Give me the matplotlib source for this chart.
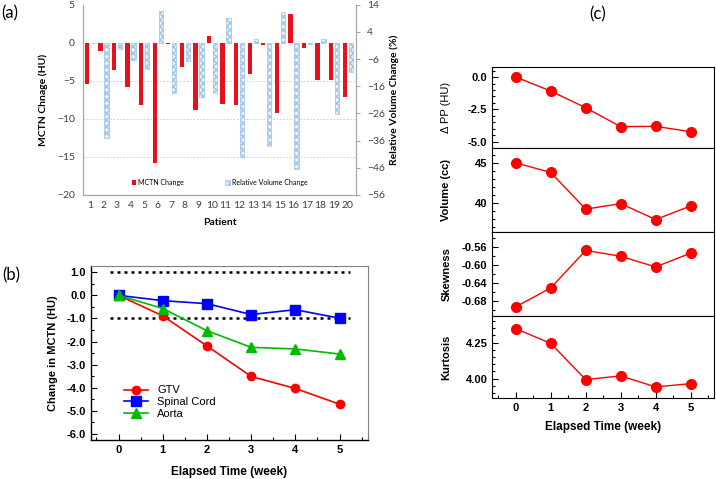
import matplotlib
matplotlib.use("Agg")
import matplotlib.pyplot as plt
from matplotlib.ticker import MultipleLocator, FormatStrFormatter
import numpy as np

plt.rcParams['font.family'] = ['Liberation Sans', 'DejaVu Sans']

# panel (a) data
patients = list(range(1, 21))
mctn_change = [-5.4, -1.1, -3.6, -5.8, -8.2, -15.8, -0.1, -3.2, -8.8, 0.9,
               -8.1, -8.2, -4.1, -0.35, -9.25, 3.8, -0.7, -4.9, -4.95, -7.15]
volume_change = [-0.2, -35.2, -2.3, -6.3, -9.7, 11.8, -18.4, -6.6, -20.0, -18.4,
                 9.2, -42.2, 1.5, -37.9, 11.4, -46.4, -0.4, 1.5, -26.2, -10.7]

# panel (b) data
weeks = [0, 1, 2, 3, 4, 5]
gtv = [0.0, -0.89, -2.19, -3.51, -4.03, -4.71]
spinal_cord = [0.0, -0.23, -0.36, -0.83, -0.62, -0.99]
aorta = [0.0, -0.57, -1.53, -2.25, -2.32, -2.54]

# panel (c) data
delta_pp = [0.0, -1.08, -2.37, -3.83, -3.80, -4.22]
volume = [45.0, 43.8, 39.2, 39.9, 37.9, 39.6]
skewness = [-0.693, -0.651, -0.567, -0.580, -0.604, -0.573]
kurtosis = [4.347, 4.245, 3.993, 4.019, 3.942, 3.965]

fig = plt.figure(figsize=(7.16, 4.79), dpi=100)

# ---------------- (a) ----------------
gray = '#a6a6a6'
afont = ['Lato', 'DejaVu Sans']
ax = fig.add_axes([0.116, 0.593, 0.381, 0.397])
x = np.array(patients)
b1 = ax.bar(x - 0.22, mctn_change, width=0.32, color='#e8111b', label='MCTN Change')
ax.set_ylim(-20, 5)
ax.set_xlim(0.5, 20.6)
for yv in [-5, -10, -15]:
    ax.axhline(yv, color='#c8c8c8', ls=(0, (2, 2)), lw=0.6, zorder=0)
ax2 = ax.twinx()
b2 = ax2.bar(x + 0.22, volume_change, width=0.32, facecolor='#eaf2fb',
             edgecolor='#9dc3e6', hatch='xxxxx', lw=0.5, label='Relative Volume Change')
ax2.set_ylim(-56, 14)
ax2.set_yticks(np.arange(-56, 15, 10))
for a in (ax, ax2):
    a.spines['top'].set_visible(False)
    a.spines['left'].set_color(gray)
    a.spines['right'].set_color(gray)
    a.spines['bottom'].set_color(gray)
ax.set_yticks([5, 0, -5, -10, -15, -20])
ax.set_xticks(patients)
ax.tick_params(axis='y', length=0, labelsize=7.5, colors='#404040', pad=6)
ax.tick_params(axis='x', length=0, labelsize=7.5, colors='#404040', pad=4)
ax2.tick_params(axis='y', length=3, color=gray, labelsize=7.5, colors='#404040', pad=5)
for lab in ax.get_xticklabels() + ax.get_yticklabels() + ax2.get_yticklabels():
    lab.set_family(afont)
ax.set_ylabel('MCTN Chnage (HU)', fontsize=7.5, fontweight='bold', family=afont, labelpad=6)
ax2.set_ylabel('Relative Volume Change (%)', fontsize=7.5, fontweight='bold', family=afont, labelpad=3)
ax.set_xlabel('Patient', fontsize=7.5, fontweight='bold', family=afont, labelpad=6)
ax.legend([b1, b2], ['MCTN Change', 'Relative Volume Change'], ncol=2, loc='center',
          bbox_to_anchor=(0.5, 0.065), frameon=False, prop={'family': afont, 'size': 5},
          handlelength=0.6, handleheight=0.6, columnspacing=6, handletextpad=0.3)
fig.text(0.002, 0.972, '(a)', fontsize=12, family=afont, va='center')

# ---------------- (b) ----------------
bx = fig.add_axes([0.1267, 0.0814, 0.387, 0.3633])
bx.plot([-0.2, 5.23], [1.0, 1.0], color='black', ls=(0, (1.2, 1.6)), lw=1.8, zorder=1)
bx.plot([-0.2, 5.23], [-1.0, -1.0], color='black', ls=(0, (1.2, 1.6)), lw=1.8, zorder=1)
bx.plot(weeks, gtv, '-o', color='#ff0000', ms=6, lw=1.2, label='GTV', zorder=3)
bx.plot(weeks, spinal_cord, '-s', color='#0000ff', ms=6.5, lw=1.2, label='Spinal Cord', zorder=4)
bx.plot(weeks, aorta, '-^', color='#00bb00', ms=6.5, lw=1.2, label='Aorta', zorder=5)
bx.set_xlim(-0.63, 5.64)
bx.set_ylim(-6.26, 1.27)
bx.set_xticks(weeks)
bx.set_yticks(np.arange(-6, 1.5, 1.0))
bx.yaxis.set_major_formatter(FormatStrFormatter('%.1f'))
bx.yaxis.set_minor_locator(MultipleLocator(0.5))
bx.xaxis.set_minor_locator(MultipleLocator(0.5))
bx.tick_params(which='both', direction='in', labelsize=8, width=0.8)
bx.tick_params(which='major', length=4)
bx.tick_params(which='minor', length=2)
bx.tick_params(axis='x', which='both', top=False)
for lab in bx.get_xticklabels() + bx.get_yticklabels():
    lab.set_fontweight('bold')
bx.spines['right'].set_color('#808080')
bx.spines['top'].set_color('#808080')
for s in ['left', 'bottom']:
    bx.spines[s].set_linewidth(1.0)
bx.set_ylabel('Change in MCTN (HU)', fontsize=8, fontweight='bold', labelpad=6)
bx.set_xlabel('Elapsed Time (week)', fontsize=8.5, fontweight='bold', labelpad=8)
bx.legend(loc='lower left', bbox_to_anchor=(0.1, 0.09), frameon=False, fontsize=8,
          handlelength=2.2, labelspacing=0.15, borderpad=0)
fig.text(0.003, 0.426, '(b)', fontsize=12, family=afont, va='center')

# ---------------- (c) ----------------
bounds = [0.8608, 0.6917, 0.5150, 0.3409, 0.1685]
series = [delta_pp, volume, skewness, kurtosis]
labels = ['\u0394 PP (HU)', 'Volume (cc)', 'Skewness', 'Kurtosis']
ylims = [(-5.45, 0.8), (36.3, 46.9), (-0.713, -0.5265), (3.863, 4.4375)]
majors = [[0.0, -2.5, -5.0], [40, 45], [-0.56, -0.60, -0.64, -0.68], [4.00, 4.25]]
minors = [0.5, 1, 0.02, 0.05]
fmts = ['%.1f', '%d', '%.2f', '%.2f']
for i in range(4):
    cx = fig.add_axes([0.6876, bounds[i + 1], 0.3096, bounds[i] - bounds[i + 1]])
    cx.plot(weeks, series[i], '-o', color='#ff0000', ms=7, lw=1.0)
    cx.set_xlim(-0.67, 5.67)
    cx.set_ylim(*ylims[i])
    cx.set_yticks(majors[i])
    cx.yaxis.set_major_formatter(FormatStrFormatter(fmts[i]))
    cx.yaxis.set_minor_locator(MultipleLocator(minors[i]))
    cx.tick_params(which='both', direction='in', labelsize=8, width=0.8, right=False, top=False)
    cx.tick_params(which='major', length=4)
    cx.tick_params(which='minor', length=2)
    for lab in cx.get_yticklabels():
        lab.set_fontweight('bold')
    weight = 'normal' if i == 0 else 'bold'
    cx.set_ylabel(labels[i], fontsize=8, fontweight=weight)
    cx.yaxis.set_label_coords(-0.185, 0.5)
    if i < 3:
        cx.set_xticks([])
    else:
        cx.set_xticks(weeks)
        cx.xaxis.set_minor_locator(MultipleLocator(0.5))
        for lab in cx.get_xticklabels():
            lab.set_fontweight('bold')
        cx.set_xlabel('Elapsed Time (week)', fontsize=8.5, fontweight='bold', labelpad=6)
fig.text(0.834, 0.969, '(c)', fontsize=12, family=afont, va='center', ha='center')

fig.savefig('out.png', dpi=100)
